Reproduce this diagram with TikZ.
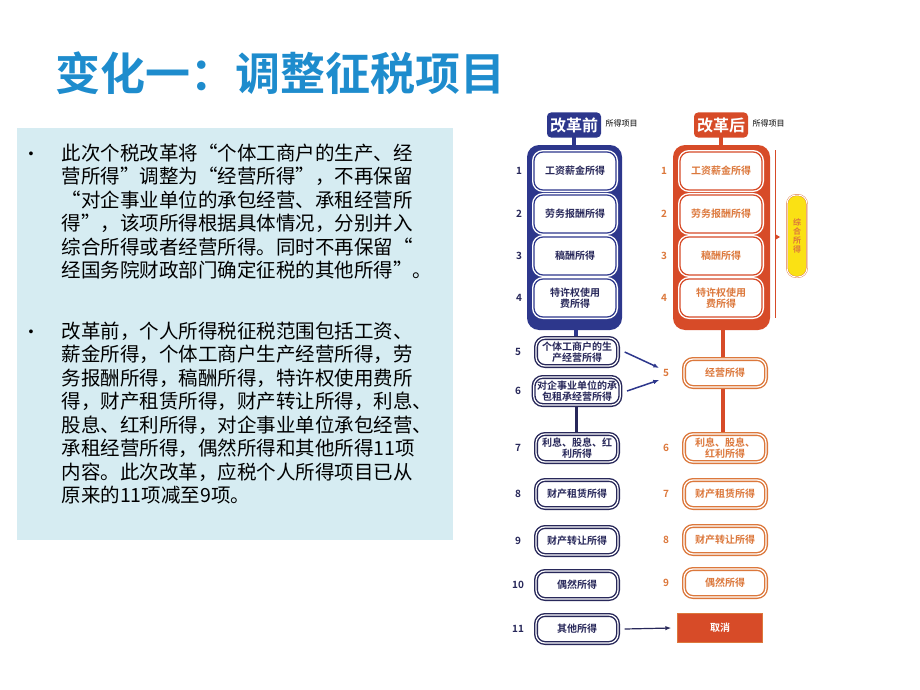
\documentclass[tikz,border=0pt]{standalone}
\usepackage{fontspec}
\setmainfont{Liberation Sans}
\newfontfamily\cjk{Noto Sans CJK SC}
\newfontfamily\cjkb{Noto Sans CJK SC Bold}
\usetikzlibrary{positioning}
\usetikzlibrary{arrows.meta}
\definecolor{titleblue}{RGB}{30,140,205}
\definecolor{panelblue}{RGB}{214,236,242}
\definecolor{navy}{RGB}{45,55,140}
\definecolor{darknavy}{RGB}{40,40,90}
\definecolor{redor}{RGB}{215,75,40}
\definecolor{lightor}{RGB}{220,120,60}
\definecolor{pillyel}{RGB}{250,225,20}
\tikzset{
  oldbox/.style={draw=navy,double=white,double distance=1.2pt,line width=1.4pt,rounded corners=9pt,fill=white,
    minimum width=82pt,minimum height=32pt,align=center,font=\cjkb\fontsize{10}{11}\selectfont,text=darknavy},
  lowbox/.style={oldbox,draw=darknavy,minimum height=28pt},
  newbox/.style={oldbox,draw=redor,text=lightor},
  newlow/.style={newbox,draw=lightor,minimum height=28pt},
  num/.style={font=\cjkb\fontsize{10}{11}\selectfont},
  hdr/.style={rounded corners=4pt,text=white,font=\cjkb\fontsize{16}{16}\selectfont,inner sep=3pt,minimum height=25pt},
  para/.style={anchor=north west,align=left,font=\cjk\fontsize{19.5}{23.5}\selectfont},
}
\begin{document}
\begin{tikzpicture}[x=1pt,y=-1pt]
  \useasboundingbox (0,0) rectangle (920,690);
  % Title.
  \node[anchor=west,text=titleblue,font=\cjkb\fontsize{45}{45}\selectfont] (title) at (52,73) {变化一：调整征税项目};
  % Text panel.
  \fill[panelblue] (17,128) rectangle (453,540);
  \node[para] (para1) at (58,140)
    {此次个税改革将“个体工商户的生产、经\\营所得”调整为“经营所得”，不再保留\\“对企事业单位的承包经营、承租经营所\\得”，该项所得根据具体情况，分别并入\\综合所得或者经营所得。同时不再保留“\\经国务院财政部门确定征税的其他所得”。};
  \node[para] (para2) at (58,318)
    {改革前，个人所得税征税范围包括工资、\\薪金所得，个体工商户生产经营所得，劳\\务报酬所得，稿酬所得，特许权使用费所\\得，财产租赁所得，财产转让所得，利息、\\股息、红利所得，对企事业单位承包经营、\\承租经营所得，偶然所得和其他所得11项\\内容。此次改革，应税个人所得项目已从\\原来的11项减至9项。};
  \node[font=\fontsize{14}{14}\selectfont] at (31,155) {•};
  \node[font=\fontsize{14}{14}\selectfont] at (31,333) {•};
  % Before.
  \draw[navy,line width=4pt] (574,125) -- (574,148);
  \draw[navy,line width=4pt] (576,325) -- (576,340);
  \draw[darknavy,line width=3pt] (576,400) -- (576,435);
  \node[hdr,fill=navy] (oldhdr) at (574,125) {改革前};
  \node[right=1pt of oldhdr,font=\cjk\fontsize{8}{8}\selectfont,yshift=2pt] {所得项目};
  \fill[navy,rounded corners=12pt] (527,145) rectangle (622,330);
  \foreach \y/\n/\t in {171/1/工资薪金所得,214/2/劳务报酬所得,256/3/稿酬所得,298/4/特许权使用\\费所得}
  {
    \node[oldbox,draw=white,double=navy,minimum height=38pt] (old\n) at (575,\y) {\t};
    \node[num,text=darknavy] at (519,\y) {\n};
  }
  \foreach \y/\n/\t in {352/5/个体工商户的生\\产经营所得,391/6/对企事业单位的承\\包租承经营所得,448/7/利息、股息、红\\利所得,494/8/财产租赁所得,541/9/财产转让所得,585/10/偶然所得,629/11/其他所得}
  {
    \node[lowbox] (old\n) at (577,\y) {\t};
    \node[num,text=darknavy] at (518,\y) {\n};
  }
  % After.
  \draw[redor,line width=4pt] (721,125) -- (721,148);
  \draw[redor,line width=4pt] (723,325) -- (723,435);
  \node[hdr,fill=redor] (newhdr) at (721,125) {改革后};
  \node[right=1pt of newhdr,font=\cjk\fontsize{8}{8}\selectfont,yshift=2pt] {所得项目};
  \fill[redor,rounded corners=12pt] (673,145) rectangle (770,330);
  \foreach \y/\n/\t in {171/1/工资薪金所得,214/2/劳务报酬所得,256/3/稿酬所得,298/4/特许权使用\\费所得}
  {
    \node[newbox,draw=white,double=redor,minimum height=38pt] (new\n) at (721,\y) {\t};
    \node[num,text=lightor] at (664,\y) {\n};
  }
  \foreach \y/\n/\t in {373/5/经营所得,448/6/利息、股息、\\红利所得,494/7/财产租赁所得,540/8/财产转让所得,583/9/偶然所得}
  {
    \node[newlow] (new\n) at (725,\y) {\t};
    \node[num,text=lightor] at (666,\y) {\n};
  }
  \node[fill=redor,draw=lightor,minimum width=85pt,minimum height=29pt,text=white,font=\cjkb\fontsize{10}{11}\selectfont] (cancel) at (720,628) {取消};
  % Merge bracket.
  \coordinate (bartop) at (775,150);
  \coordinate (barbot) at (775,318);
  \draw[redor,line width=1pt] (bartop) -- (barbot);
  \fill[redor] (775,234) -- (780,237) -- (775,240) -- cycle;
  \node[fill=pillyel,draw=lightor,double=white,double distance=1pt,rounded corners=9pt,minimum width=20pt,minimum height=82pt,
    text=lightor,font=\cjkb\fontsize{8}{9}\selectfont,align=center,inner sep=1pt] (pill) at (797,236) {综\\合\\所\\得};
  % Connectors.
  \draw[navy,line width=1.5pt,-{Latex[length=6pt]}] ([xshift=6pt]old5.east) -- ([xshift=-24pt,yshift=5pt]new5.west);
  \draw[navy,line width=1.5pt,-{Latex[length=6pt]}] ([xshift=6pt]old6.east) -- ([xshift=-24pt,yshift=-7pt]new5.west);
  \draw[darknavy,line width=1.2pt,-{Latex[length=6pt]}] ([xshift=6pt]old11.east) -- ([xshift=-6pt]cancel.west);
\end{tikzpicture}
\end{document}
